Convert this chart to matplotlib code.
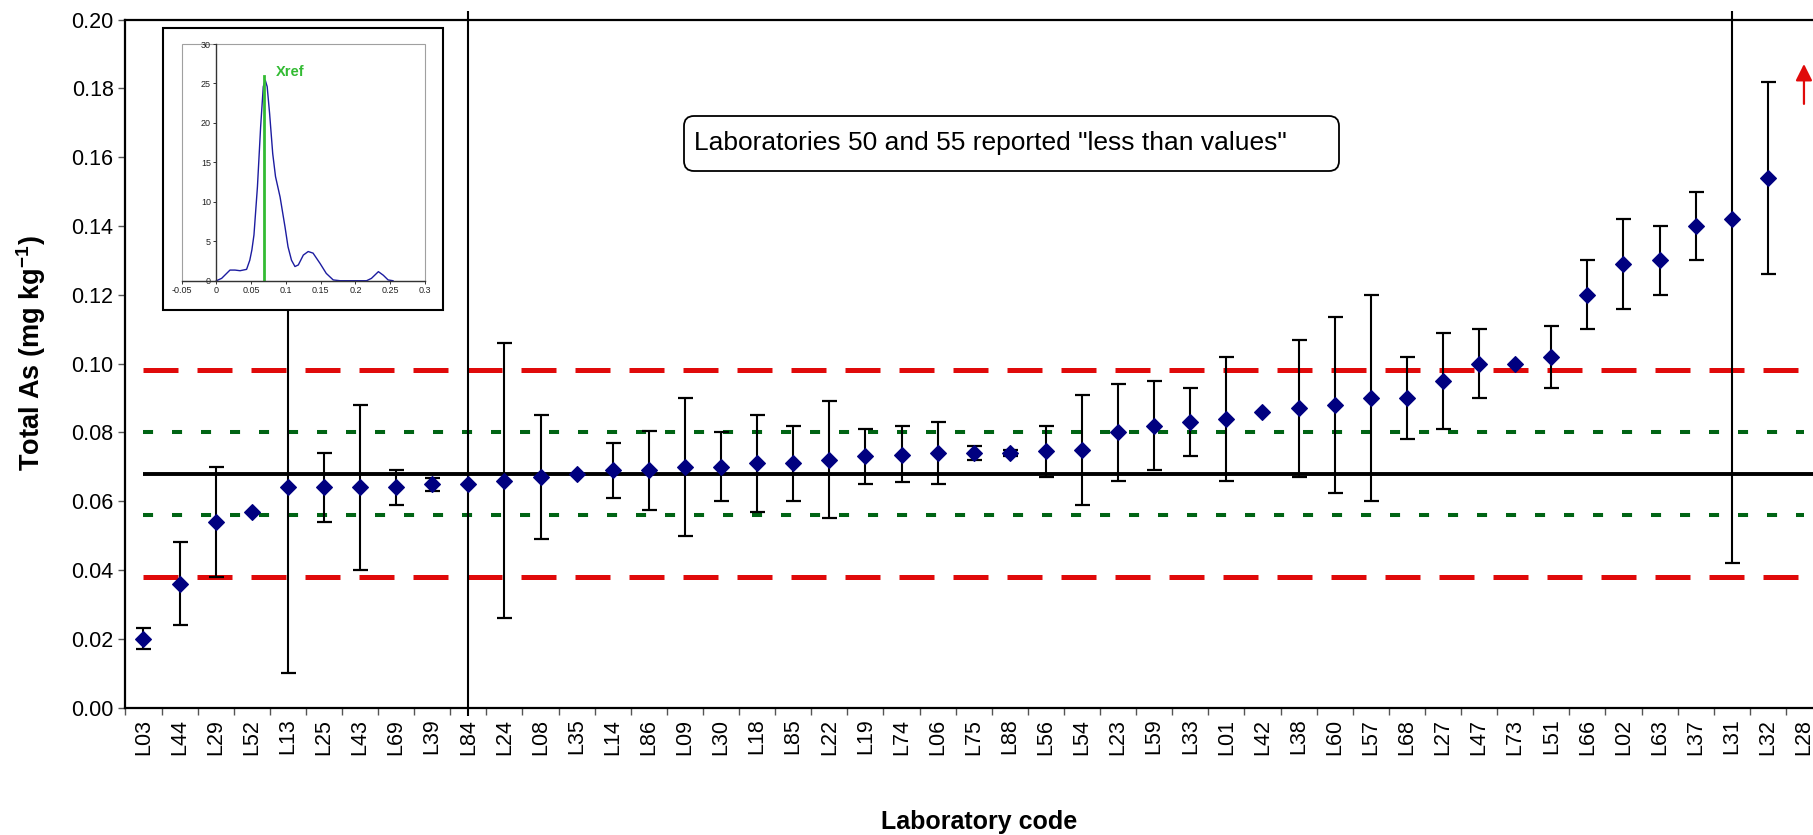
import numpy as np
import matplotlib
matplotlib.use("Agg")
import matplotlib.pyplot as plt
from matplotlib.patches import Rectangle, FancyBboxPatch

plt.rcParams['font.family'] = ['Liberation Sans', 'DejaVu Sans']
plt.rcParams['mathtext.fontset'] = 'custom'
plt.rcParams['mathtext.rm'] = 'Liberation Sans'
plt.rcParams['mathtext.bf'] = 'Liberation Sans:bold'

nan = np.nan
inf = np.inf

# ---------------- data ----------------
labs = ['L03', 'L44', 'L29', 'L52', 'L13', 'L25', 'L43', 'L69', 'L39', 'L84',
        'L24', 'L08', 'L35', 'L14', 'L86', 'L09', 'L30', 'L18', 'L85', 'L22',
        'L19', 'L74', 'L06', 'L75', 'L88', 'L56', 'L54', 'L23', 'L59', 'L33',
        'L01', 'L42', 'L38', 'L60', 'L57', 'L68', 'L27', 'L47', 'L73', 'L51',
        'L66', 'L02', 'L63', 'L37', 'L31', 'L32', 'L28']

values = [0.020, 0.036, 0.054, 0.057, 0.064, 0.064, 0.064, 0.064, 0.065, 0.065,
          0.066, 0.067, 0.068, 0.069, 0.069, 0.070, 0.070, 0.071, 0.071, 0.072,
          0.073, 0.0735, 0.074, 0.074, 0.074, 0.0745, 0.075, 0.080, 0.082, 0.083,
          0.084, 0.086, 0.087, 0.088, 0.090, 0.090, 0.095, 0.100, 0.100, 0.102,
          0.120, 0.129, 0.130, 0.140, 0.142, 0.154, nan]

# upper / lower ends of the uncertainty bars (nan = no bar, inf = off scale)
upper = [0.023, 0.048, 0.070, nan, 0.118, 0.074, 0.088, 0.069, 0.0667, inf,
         0.106, 0.085, nan, 0.077, 0.0805, 0.090, 0.080, 0.085, 0.082, 0.089,
         0.081, 0.082, 0.083, 0.076, 0.075, 0.082, 0.091, 0.094, 0.095, 0.093,
         0.102, nan, 0.107, 0.1135, 0.120, 0.102, 0.109, 0.110, nan, 0.111,
         0.130, 0.142, 0.140, 0.150, inf, 0.182, nan]
lower = [0.017, 0.024, 0.038, nan, 0.010, 0.054, 0.040, 0.059, 0.063, -inf,
         0.026, 0.049, nan, 0.061, 0.0575, 0.050, 0.060, 0.057, 0.060, 0.055,
         0.065, 0.0655, 0.065, 0.072, 0.073, 0.067, 0.059, 0.066, 0.069, 0.073,
         0.066, nan, 0.067, 0.0625, 0.060, 0.078, 0.081, 0.090, nan, 0.093,
         0.110, 0.116, 0.120, 0.130, 0.042, 0.126, nan]

x_ref = 0.068
target_sd = [0.056, 0.080]     # green dotted
target_2sd = [0.038, 0.098]    # red dashed

# "greater than" arrow for L28
arrow_lab = 'L28'
arrow_from, arrow_to = 0.1755, 0.1871

note = 'Laboratories 50 and 55 reported "less than values"'

# inset kernel density
kd_x = [0.0, 0.0075, 0.0195, 0.0267, 0.034, 0.0434, 0.048, 0.051, 0.054, 0.059,
        0.0636, 0.0674, 0.0703, 0.073, 0.0765, 0.081, 0.085, 0.0916, 0.0987,
        0.103, 0.108, 0.113, 0.1178, 0.125, 0.132, 0.139, 0.149, 0.158, 0.168,
        0.178, 0.216, 0.223, 0.233, 0.240, 0.247, 0.254]
kd_y = [0.0, 0.3, 1.35, 1.35, 1.27, 1.44, 2.6, 3.9, 5.8, 11.9,
        19.5, 24.6, 25.4, 24.6, 21.2, 16.1, 13.2, 10.6, 6.8,
        4.3, 2.6, 1.8, 2.0, 3.25, 3.7, 3.5, 2.2, 0.93, 0.1,
        0.0, 0.0, 0.3, 1.15, 0.7, 0.1, 0.0]
kd_xticks = [-0.05, 0.0, 0.05, 0.1, 0.15, 0.2, 0.25, 0.3]
kd_xticklabels = ['-0.05', '0', '0.05', '0.1', '0.15', '0.2', '0.25', '0.3']
kd_yticks = [0, 5, 10, 15, 20, 25, 30]
xref_peak = 26

# ---------------- styles ----------------
RED = '#E00A0A'
GREEN = '#006414'
NAVY = '#000080'
LGREEN = '#33BB33'

fig = plt.figure(figsize=(18.13, 8.35), dpi=100)
fig.patch.set_facecolor('white')
ax = fig.add_axes([0.06917, 0.15257, 0.9358, 0.82395])

n = len(labs)
x = np.arange(n)
ymin, ymax = 0.0, 0.20
ax.set_xlim(-0.5, n - 0.5)
ax.set_ylim(ymin, ymax)

# reference lines
for v in target_2sd:
    ax.plot([x[0], x[-1]], [v, v], color=RED, lw=3.6, ls=(0, (7, 3.8)),
            dash_capstyle='butt', zorder=2)
for v in target_sd:
    ax.plot([x[0], x[-1]], [v, v], color=GREEN, lw=2.9, ls=(0, (2.5, 4.7)),
            dash_capstyle='butt', zorder=2)
ax.plot([x[0], n - 0.5], [x_ref, x_ref], color='black', lw=2.8,
        solid_capstyle='butt', zorder=2)

# uncertainty bars
over = 0.0024
for i in range(n):
    lo, hi = lower[i], upper[i]
    if np.isnan(lo) or np.isnan(hi):
        continue
    y0 = max(lo, ymin - over)
    y1 = min(hi, ymax + over)
    ax.plot([x[i], x[i]], [y0, y1], color='black', lw=1.5, clip_on=False,
            solid_capstyle='butt', zorder=3)
    for e in (lo, hi):
        if np.isfinite(e):
            ax.plot([x[i]], [e], marker='_', ms=10.8, mew=1.6, color='black',
                    clip_on=False, zorder=3)

# markers
ax.plot(x, values, ls='none', marker='D', ms=8.3, mfc=NAVY, mec=NAVY,
        mew=0.8, zorder=5)

# arrow for off-scale result
ia = labs.index(arrow_lab)
ax.annotate('', xy=(ia, arrow_to), xytext=(ia, arrow_from),
            arrowprops=dict(arrowstyle='-|>', color=RED, lw=1.6,
                            mutation_scale=25, shrinkA=0, shrinkB=0),
            annotation_clip=False, zorder=6)

# axes styling
ax.spines['right'].set_visible(False)
for s in ('left', 'bottom', 'top'):
    ax.spines[s].set_linewidth(1.6)
    ax.spines[s].set_color('black')

ax.set_xticks(x)
ax.set_xticklabels(labs, rotation=90)
ax.set_xticks(np.arange(-0.5, n, 1.0), minor=True)
ax.tick_params(axis='x', which='major', length=0, pad=8, labelsize=15.5)
ax.tick_params(axis='x', which='minor', length=5, width=1.0, color='#555555',
               direction='out')
ax.set_yticks(np.arange(0, 0.2001, 0.02))
ax.set_yticklabels(['%.2f' % t for t in np.arange(0, 0.2001, 0.02)])
ax.tick_params(axis='y', which='major', length=5, width=1.0, color='#555555',
               pad=3.5, labelsize=15.5)

fig.text(979 / 1813, 1 - 822 / 835, 'Laboratory code', ha='center',
         va='center', fontsize=18, fontweight='bold')
fig.text(31 / 1813, 1 - 353 / 835, r'Total As (mg kg$^{\mathbf{-1}}$)',
         rotation=90, ha='center', va='center', fontsize=19.5,
         fontweight='bold')

# note box
box = FancyBboxPatch((6.84, 6.64), 6.55, 0.55,
                     boxstyle='round,pad=0,rounding_size=0.1',
                     transform=fig.dpi_scale_trans, fc='white', ec='black',
                     lw=1.3, zorder=1)
fig.add_artist(box)
fig.text(6.94, 6.92, note, transform=fig.dpi_scale_trans, ha='left',
         va='center', fontsize=19, zorder=2)

# inset frame
frame = Rectangle((1.627, 5.25), 2.803, 2.817, transform=fig.dpi_scale_trans,
                  fc='white', ec='black', lw=1.5, zorder=2)
fig.add_artist(frame)

ins = fig.add_axes([0.1002, 0.6638, 0.1342, 0.2835])
ins.set_zorder(3)
ins.set_xlim(-0.05, 0.3)
ins.set_ylim(0, 30)
ins.plot(kd_x, kd_y, color='#1C1CA0', lw=1.0)
ins.plot([x_ref, x_ref], [0, xref_peak], color=LGREEN, lw=2.0)
ins.text(x_ref + 0.017, xref_peak + 0.4, 'Xref', color=LGREEN,
         fontweight='bold', fontsize=10.5, va='center', ha='left')
ins.spines['top'].set_visible(False)
ins.spines['right'].set_visible(False)
ins.spines['left'].set_position(('data', 0))
for s in ('left', 'bottom'):
    ins.spines[s].set_color('#333333')
    ins.spines[s].set_linewidth(1.0)
ins.add_patch(Rectangle((0, 0), 1, 1, transform=ins.transAxes, fill=False,
                        ec='#A0A0A0', lw=0.8, clip_on=False, zorder=0))
ins.set_xticks(kd_xticks)
ins.set_xticklabels(kd_xticklabels)
ins.set_yticks(kd_yticks)
ins.tick_params(labelsize=6.5, length=2.5, width=0.7, pad=1.5,
                color='#333333', labelcolor='#222222')

fig.savefig('out.png', dpi=100, facecolor='white')
